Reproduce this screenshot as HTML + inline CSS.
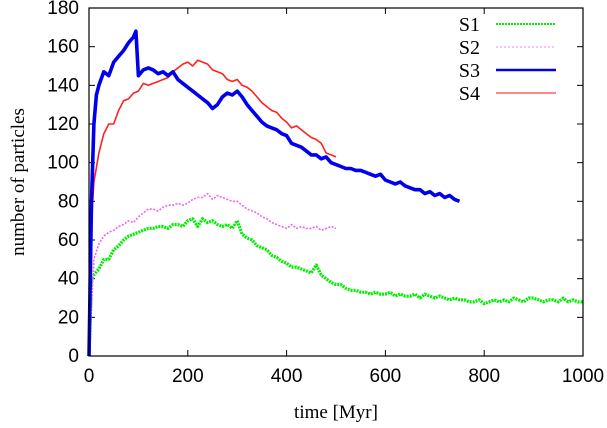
<!DOCTYPE html>
<html><head><meta charset="utf-8"><style>
body{margin:0;background:#fff}
svg{display:block;font-family:"Liberation Serif",serif}
</style></head><body>
<svg id="chart" width="607" height="428" viewBox="0 0 607 428" xmlns="http://www.w3.org/2000/svg">
<g id="plot"></g>
</svg>
<script>
const xTicks=[0,200,400,600,800,1000];
const yTicks=[0,20,40,60,80,100,120,140,160,180];
const s1T=[0,5,10,20,30,40,50,60,70,80,90,100,110,120,130,140,150,160,170,180,190,200,210,220,230,240,250,260,270,280,290,300,310,320,330,340,350,360,370,380,390,400,410,420,430,440,450,460,470,480,490,500,510,520,530,540,550,560,570,580,590,600,610,620,630,640,650,660,670,680,690,700,710,720,730,740,750,760,770,780,790,800,810,820,830,840,850,860,870,880,890,900,910,920,930,940,950,960,970,980,990,1000];
const s1V=[0,40,42,45,50,50,55,57,60,62,63,64,65,66,66,67,67,66,68,68,67,70,71,67,71,69,70,68,67,68,66,70,63,61,60,57,56,55,52,51,49,48,46,46,45,44,43,47,42,40,38,37,37,35,34,34,33,33,32,33,32,32,33,31,32,31,31,32,30,32,31,30,31,30,29,30,29,29,28,28,29,27,28,29,28,29,28,30,29,28,30,30,29,28,29,29,28,30,28,29,28,28];
const s2T=[0,10,20,30,40,50,60,70,80,90,100,110,120,130,140,150,160,170,180,190,200,210,220,230,240,250,260,270,280,290,300,310,320,330,340,350,360,370,380,390,400,410,420,430,440,450,460,470,480,490,500];
const s2V=[0,50,58,62,64,65,67,68,70,69,72,74,76,76,75,77,78,78,79,78,79,81,82,82,84,81,83,82,81,80,80,78,76,75,74,72,71,69,68,67,66,68,66,67,66,66,67,65,66,67,66];
const s3T=[0,5,10,15,20,30,40,50,60,70,80,90,95,100,110,120,130,140,150,160,170,180,190,200,210,220,230,240,250,260,270,280,290,300,310,320,330,340,350,360,370,380,390,400,410,420,430,440,450,460,470,480,490,500,510,520,530,540,550,560,570,580,590,600,610,620,630,640,650,660,670,680,690,700,710,720,730,740,750];
const s3V=[0,80,120,135,140,147,145,152,155,158,162,165,168,145,148,149,148,146,147,145,147,143,141,139,137,135,133,131,128,130,134,136,135,137,134,130,127,124,121,119,118,117,115,114,110,109,108,106,104,104,102,103,100,99,98,97,97,96,96,95,94,93,94,91,90,89,90,88,87,86,86,84,85,83,84,82,83,81,80];
const s4T=[0,5,10,20,30,40,50,60,70,80,90,100,110,120,130,140,150,160,170,180,190,200,210,220,230,240,250,260,270,280,290,300,310,320,330,340,350,360,370,380,390,400,410,420,430,440,450,460,470,480,490,500];
const s4V=[0,70,90,105,115,120,120,127,132,133,136,137,141,140,141,142,143,144,147,149,151,152,150,153,152,151,148,147,146,143,142,143,140,139,137,134,131,129,127,126,123,121,118,119,117,115,113,112,110,105,104,103];
const L=89,R=583,T=8,B=356;
const xs=v=>L+(R-L)*v/1000, ys=v=>B-(B-T)*v/180;
const NS="http://www.w3.org/2000/svg";
const g=document.getElementById('plot');
function mk(tag,attrs){const e=document.createElementNS(NS,tag);for(const k in attrs)e.setAttribute(k,attrs[k]);g.appendChild(e);return e;}
xTicks.forEach(v=>{
  const t=mk('line',{x1:xs(v),x2:xs(v),y1:B,y2:B-6,stroke:'#000'});
  
  
  const t2=mk('line',{x1:xs(v),x2:xs(v),y1:T,y2:T+6,stroke:'#000'});
  
  
  const l=mk('text',{x:xs(v),y:B+26,'text-anchor':'middle','font-size':'19','font-family':'Liberation Sans, sans-serif'});l.textContent=v;
  
  
});
yTicks.forEach(v=>{
  const t=mk('line',{x1:L,x2:L+6,y1:ys(v),y2:ys(v),stroke:'#000'});
  
  
  const t2=mk('line',{x1:R,x2:R-6,y1:ys(v),y2:ys(v),stroke:'#000'});
  
  
  const l=mk('text',{x:L-10,y:ys(v)+6,'text-anchor':'end','font-size':'19','font-family':'Liberation Sans, sans-serif'});l.textContent=v;
  
  
});
function series(T_,V,color,w,dash,name){
  const d=T_.map((t,i)=>(i?'L':'M')+xs(t).toFixed(1)+','+ys(V[i]).toFixed(1)).join('');
  const p=mk('path',{d:d,fill:'none',stroke:color,'stroke-width':w,'stroke-linejoin':'round'});
  if(dash)p.setAttribute('stroke-dasharray',dash);
  
  
}
series(s1T,s1V,'#00ee00',3.2,'2,1','series-s1');
series(s2T,s2V,'#ee66ee',1.6,'2,1.5','series-s2');
series(s4T,s4V,'#ff2020',1.6,null,'series-s4');
series(s3T,s3V,'#0000ee',3.6,null,'series-s3');
const fr=mk('rect',{x:L,y:T,width:R-L,height:B-T,fill:'none',stroke:'#000','stroke-width':1.2});


const leg=[['S1','#00ee00',2,'2,1'],['S2','#ee88ee',1,'2,2'],['S3','#0000ee',2.5,null],['S4','#ff4040',1.2,null]];
leg.forEach((e,i)=>{
  const y=24+i*23;
  const t=mk('text',{x:480,y:y+7,'text-anchor':'end','font-size':'20'});t.textContent=e[0];
  
  
  const l=mk('line',{x1:496,x2:556,y1:y,y2:y,stroke:e[1],'stroke-width':e[2]});
  if(e[3])l.setAttribute('stroke-dasharray',e[3]);
  
  
});
const xt=mk('text',{x:336,y:418,'text-anchor':'middle','font-size':'19'});xt.textContent='time [Myr]';


const yt=mk('text',{x:24,y:182,'text-anchor':'middle','font-size':'19',transform:'rotate(-90 24 182)'});yt.textContent='number of particles';


</script>
</body></html>
